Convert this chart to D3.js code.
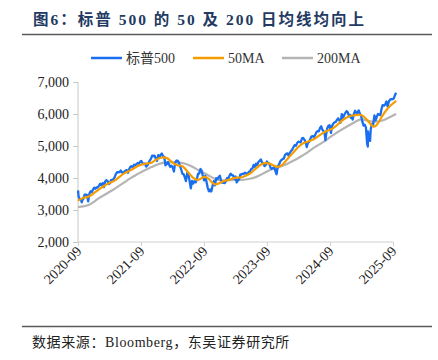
<!DOCTYPE html>
<html><head><meta charset="utf-8">
<script src="https://cdn.jsdelivr.net/npm/d3@7"></script>
<style>
body{margin:0;background:#fff;}
svg{display:block;font-family:"Liberation Serif","Times New Roman","Noto Sans CJK SC",serif;}
</style></head>
<body><svg id="c" width="438" height="360"></svg>
<script>
// S&P 500 (approx. weekly closes)
const spxDates = ["2020-09-01","2020-09-02","2020-09-04","2020-09-11","2020-09-18","2020-09-23","2020-09-25","2020-10-02","2020-10-09","2020-10-16","2020-10-23","2020-10-30","2020-11-06","2020-11-13","2020-11-20","2020-11-27","2020-12-04","2020-12-11","2020-12-18","2020-12-24","2020-12-31",
"2021-01-08","2021-01-15","2021-01-22","2021-01-29","2021-02-05","2021-02-12","2021-02-19","2021-02-26","2021-03-05","2021-03-12","2021-03-19","2021-03-26","2021-04-01","2021-04-09","2021-04-16","2021-04-23","2021-04-30","2021-05-07","2021-05-14","2021-05-21","2021-05-28","2021-06-04","2021-06-11","2021-06-18","2021-06-25","2021-07-02","2021-07-09","2021-07-16","2021-07-23","2021-07-30","2021-08-06","2021-08-13","2021-08-20","2021-08-27","2021-09-03","2021-09-10","2021-09-17","2021-09-24","2021-10-01","2021-10-08","2021-10-15","2021-10-22","2021-10-29","2021-11-05","2021-11-12","2021-11-19","2021-11-26","2021-12-03","2021-12-10","2021-12-17","2021-12-23","2021-12-31",
"2022-01-07","2022-01-14","2022-01-21","2022-01-28","2022-02-04","2022-02-11","2022-02-18","2022-02-25","2022-03-04","2022-03-11","2022-03-18","2022-03-25","2022-04-01","2022-04-08","2022-04-14","2022-04-22","2022-04-29","2022-05-06","2022-05-13","2022-05-20","2022-05-27","2022-06-03","2022-06-10","2022-06-17","2022-06-24","2022-07-01","2022-07-08","2022-07-15","2022-07-22","2022-07-29","2022-08-05","2022-08-12","2022-08-19","2022-08-26","2022-09-02","2022-09-09","2022-09-16","2022-09-23","2022-09-30","2022-10-07","2022-10-12","2022-10-14","2022-10-21","2022-10-28","2022-11-04","2022-11-11","2022-11-18","2022-11-25","2022-12-02","2022-12-09","2022-12-16","2022-12-23","2022-12-30",
"2023-01-06","2023-01-13","2023-01-20","2023-01-27","2023-02-03","2023-02-10","2023-02-17","2023-02-24","2023-03-03","2023-03-10","2023-03-17","2023-03-24","2023-03-31","2023-04-06","2023-04-14","2023-04-21","2023-04-28","2023-05-05","2023-05-12","2023-05-19","2023-05-26","2023-06-02","2023-06-09","2023-06-16","2023-06-23","2023-06-30","2023-07-07","2023-07-14","2023-07-21","2023-07-28","2023-08-04","2023-08-11","2023-08-18","2023-08-25","2023-09-01","2023-09-08","2023-09-15","2023-09-22","2023-09-29","2023-10-06","2023-10-13","2023-10-20","2023-10-27","2023-11-03","2023-11-10","2023-11-17","2023-11-24","2023-12-01","2023-12-08","2023-12-15","2023-12-22","2023-12-29",
"2024-01-05","2024-01-12","2024-01-19","2024-01-26","2024-02-02","2024-02-09","2024-02-16","2024-02-23","2024-03-01","2024-03-08","2024-03-15","2024-03-22","2024-03-28","2024-04-05","2024-04-12","2024-04-19","2024-04-26","2024-05-03","2024-05-10","2024-05-17","2024-05-24","2024-05-31","2024-06-07","2024-06-14","2024-06-21","2024-06-28","2024-07-05","2024-07-12","2024-07-19","2024-07-26","2024-08-02","2024-08-05","2024-08-09","2024-08-16","2024-08-23","2024-08-30","2024-09-06","2024-09-13","2024-09-20","2024-09-27","2024-10-04","2024-10-11","2024-10-18","2024-10-25","2024-11-01","2024-11-08","2024-11-15","2024-11-22","2024-11-29","2024-12-06","2024-12-13","2024-12-20","2024-12-27","2024-12-31",
"2025-01-03","2025-01-10","2025-01-17","2025-01-24","2025-01-31","2025-02-07","2025-02-14","2025-02-21","2025-02-28","2025-03-07","2025-03-14","2025-03-21","2025-03-28","2025-04-04","2025-04-08","2025-04-09","2025-04-11","2025-04-17","2025-04-21","2025-04-25","2025-05-02","2025-05-09","2025-05-16","2025-05-23","2025-05-30","2025-06-06","2025-06-13","2025-06-20","2025-06-27","2025-07-03","2025-07-11","2025-07-18","2025-07-25","2025-08-01","2025-08-08","2025-08-15","2025-08-22","2025-08-29","2025-09-05","2025-09-12","2025-09-19"];
const spxValues = [3526,3580,3427,3341,3319,3237,3298,3348,3477,3484,3465,3270,3509,3585,3557,3638,3699,3663,3709,3703,3756,
3825,3768,3841,3714,3887,3934,3907,3811,3842,3943,3913,3975,4020,4129,4185,4180,4181,4233,4174,4156,4204,4230,4247,4166,4281,4352,4370,4327,4412,4395,4437,4468,4442,4509,4535,4459,4433,4455,4357,4391,4471,4545,4605,4697,4683,4698,4595,4538,4712,4620,4726,4766,
4677,4663,4398,4432,4500,4419,4349,4385,4329,4204,4463,4543,4546,4488,4393,4272,4132,4123,4024,3901,4158,4109,3901,3675,3912,3825,3899,3863,3962,4130,4145,4280,4228,4057,3924,4067,3873,3693,3586,3640,3577,3583,3753,3901,3771,3993,3965,4026,4072,3934,3852,3845,3840,
3895,3999,3973,4071,4136,4090,4079,3970,4046,3862,3917,3971,4109,4105,4138,4133,4169,4136,4124,4192,4205,4282,4299,4410,4348,4450,4399,4505,4536,4582,4478,4464,4370,4406,4516,4457,4450,4320,4288,4309,4327,4224,4117,4358,4415,4514,4559,4595,4604,4719,4754,4770,
4697,4784,4840,4891,4959,5027,5006,5089,5137,5124,5117,5234,5254,5204,5123,4967,5100,5128,5223,5303,5305,5278,5347,5432,5465,5460,5567,5615,5505,5459,5346,5186,5344,5554,5635,5648,5408,5626,5703,5738,5751,5815,5865,5808,5729,5996,5870,5969,6032,6090,6051,5931,5971,5882,
5942,5827,5997,6101,6041,6026,6115,6013,5955,5770,5639,5668,5581,5074,4982,5457,5363,5283,5158,5525,5686,5660,5958,5803,5912,6000,5977,5967,6173,6279,6260,6297,6389,6238,6389,6450,6467,6460,6482,6584,6664];

// 50-day moving average (approx.)
const ma50Dates = ["2020-09-01","2020-10-01","2020-11-01","2020-12-01","2021-01-01","2021-02-01","2021-03-01","2021-04-01","2021-05-01","2021-06-01","2021-07-01","2021-08-01","2021-09-01","2021-10-01","2021-11-01","2021-12-01","2022-01-01","2022-02-01","2022-03-01","2022-04-01","2022-05-01","2022-06-01","2022-07-01","2022-08-01","2022-09-01","2022-10-01","2022-11-01","2022-12-01","2023-01-01","2023-02-01","2023-03-01","2023-04-01","2023-05-01","2023-06-01","2023-07-01","2023-08-01","2023-09-01","2023-10-01","2023-11-01","2023-12-01","2024-01-01","2024-02-01","2024-03-01","2024-04-01","2024-05-01","2024-06-01","2024-07-01","2024-08-01","2024-09-01","2024-10-01","2024-11-01","2024-12-01","2025-01-01","2025-02-01","2025-03-01","2025-04-01","2025-05-10","2025-06-01","2025-07-01","2025-08-01","2025-09-01","2025-09-19"];
const ma50Values = [3290,3390,3400,3520,3650,3760,3850,3900,4050,4170,4230,4340,4420,4460,4450,4600,4650,4640,4480,4380,4400,4170,3990,3900,4080,3980,3750,3850,3920,3950,4020,4000,4070,4150,4310,4450,4480,4420,4320,4400,4620,4790,4980,5110,5140,5210,5330,5450,5500,5590,5760,5880,5960,5960,6000,5850,5550,5650,5950,6190,6330,6410];

// 200-day moving average (approx.)
const ma200Dates = ["2020-09-01","2020-10-01","2020-11-01","2020-12-01","2021-01-01","2021-02-01","2021-03-01","2021-04-01","2021-05-01","2021-06-01","2021-07-01","2021-08-01","2021-09-01","2021-10-01","2021-11-01","2021-12-01","2022-01-01","2022-02-01","2022-03-01","2022-04-01","2022-05-01","2022-06-01","2022-07-01","2022-08-01","2022-09-01","2022-10-01","2022-11-01","2022-12-01","2023-01-01","2023-02-01","2023-03-01","2023-04-01","2023-05-01","2023-06-01","2023-07-01","2023-08-01","2023-09-01","2023-10-01","2023-11-01","2023-12-01","2024-01-01","2024-02-01","2024-03-01","2024-04-01","2024-05-01","2024-06-01","2024-07-01","2024-08-01","2024-09-01","2024-10-01","2024-11-01","2024-12-01","2025-01-01","2025-02-01","2025-03-01","2025-04-01","2025-05-01","2025-06-01","2025-07-01","2025-08-01","2025-09-01","2025-09-19"];
const ma200Values = [3090,3110,3140,3250,3380,3470,3560,3660,3770,3880,3990,4090,4180,4270,4340,4420,4470,4490,4500,4480,4470,4420,4340,4240,4160,4070,3970,3930,3920,3930,3940,3940,3950,3980,4030,4110,4210,4280,4320,4380,4450,4540,4620,4720,4830,4950,5050,5150,5280,5390,5490,5590,5680,5780,5850,5800,5760,5760,5790,5870,5950,6000];

const yTicks = [2000,3000,4000,5000,6000,7000];
const xTickLabels = ["2020-09","2021-09","2022-09","2023-09","2024-09","2025-09"];
const seriesNames = ["标普500","50MA","200MA"];
const seriesColors = ["#1a6ef0","#f59c00","#b4b4b4"];

const parse = d3.timeParse("%Y-%m-%d");
const parseM = d3.timeParse("%Y-%m");
const svg = d3.select("#c");

const x = d3.scaleTime().domain([parseM("2020-09"), parseM("2025-09")]).range([78, 393]);
const y = d3.scaleLinear().domain([2000, 7000]).range([242, 82]);

// title
svg.append("text").attr("x", 33).attr("y", 25).attr("fill", "#233a62")
  .attr("font-size", 15.5).attr("font-weight", "bold").attr("letter-spacing", 2)
  .style("font-family", "'Liberation Serif','Noto Sans CJK SC',serif")
  .text("图6：标普 500 的 50 及 200 日均线均向上");
svg.append("line").attr("x1", 22).attr("x2", 432).attr("y1", 34.5).attr("y2", 34.5)
  .attr("stroke", "#5a5a5a").attr("stroke-width", 1.3);

// legend
const legX = [91, 193, 282];
seriesNames.forEach((n, i) => {
  svg.append("line").attr("x1", legX[i]).attr("x2", legX[i] + 31).attr("y1", 58).attr("y2", 58)
    .attr("stroke", seriesColors[i]).attr("stroke-width", 2.5);
  svg.append("text").attr("x", legX[i] + 35).attr("y", 63).attr("font-size", 14).attr("fill", "#333")
    .text(n);
});

// axes
const yAxis = d3.axisLeft(y).tickValues(yTicks).tickSize(5).tickPadding(4).tickFormat(d3.format(","));
const gy = svg.append("g").attr("transform", "translate(78,0)").call(yAxis);
gy.select(".domain").attr("stroke", "#c8c8c8").attr("d", "M0,82V242");
gy.selectAll(".tick line").attr("stroke", "#c8c8c8");
gy.selectAll("text").attr("font-size", 14).attr("fill", "#222")
  .style("font-family", "'Liberation Serif',serif");

const xAxis = d3.axisBottom(x).tickValues(xTickLabels.map(parseM)).tickSize(4).tickFormat(d3.timeFormat("%Y-%m"));
const gx = svg.append("g").attr("transform", "translate(0,242)").call(xAxis);
gx.select(".domain").attr("stroke", "#d0d0d0").attr("d", "M78,0H393");
gx.selectAll(".tick line").attr("stroke", "#d0d0d0");
gx.selectAll("text").attr("font-size", 14).attr("fill", "#222")
  .style("font-family", "'Liberation Serif',serif")
  .attr("text-anchor", "end").attr("dy", 0).attr("y", 0)
  .attr("transform", "translate(4,10) rotate(-45)");

// lines
const line = d3.line().x(d => x(d[0])).y(d => y(d[1]));
const sm = d3.line().x(d => x(d[0])).y(d => y(d[1])).curve(d3.curveBasis);
const ma200 = ma200Dates.map((d, i) => [parse(d), ma200Values[i]]);
const ma50 = ma50Dates.map((d, i) => [parse(d), ma50Values[i]]);
const spx = spxDates.map((d, i) => [parse(d), spxValues[i]]);
svg.append("path").datum(ma200).attr("d", sm).attr("fill", "none").attr("stroke", seriesColors[2]).attr("stroke-width", 2.2);
svg.append("path").datum(spx).attr("d", line).attr("fill", "none").attr("stroke", seriesColors[0]).attr("stroke-width", 2.3).attr("stroke-linejoin", "round");
svg.append("path").datum(ma50).attr("d", sm).attr("fill", "none").attr("stroke", seriesColors[1]).attr("stroke-width", 2.2);

// footer
svg.append("line").attr("x1", 22).attr("x2", 432).attr("y1", 326.5).attr("y2", 326.5)
  .attr("stroke", "#5a5a5a").attr("stroke-width", 1.3);
svg.append("text").attr("x", 32).attr("y", 347).attr("font-size", 14).attr("fill", "#222")
  .attr("letter-spacing", 0.6)
  .text("数据来源：Bloomberg，东吴证券研究所");
</script></body></html>
